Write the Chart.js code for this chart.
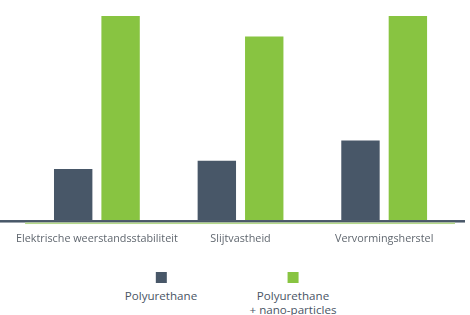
<!DOCTYPE html>
<html><head><meta charset="utf-8">
<script src="https://cdn.jsdelivr.net/npm/chart.js@4.4.1/dist/chart.umd.min.js"></script>
<style>
html,body{margin:0;padding:0;background:#fff;}
#wrap{position:relative;width:470px;height:315px;overflow:hidden;}
#c{position:absolute;left:0;top:0;}
.lg{position:absolute;top:272px;text-align:center;font-family:"Open Sans",sans-serif;font-size:11.6px;color:#4a5565;line-height:14px;transform:translateX(-50%);white-space:nowrap;}
.lg .sw{width:11px;height:11px;margin:0 auto 6px auto;}
</style></head>
<body><div id="wrap"><canvas id="c" width="470" height="265"></canvas></div>
<script>
const categories = ["Elektrische weerstandsstabiliteit", "Slijtvastheid", "Vervormingsherstel"];
const seriesNames = [["Polyurethane"], ["Polyurethane", "+ nano-particles"]];
const polyurethane = [25, 29, 39];
const polyNano = [100, 90, 100];
const colors = ["#485768", "#88c441"];
const legendX = [161, 293];

const baseline = {
  id: 'baseline',
  afterDatasetsDraw(chart) {
    const ctx = chart.ctx, y0 = chart.scales.y.getPixelForValue(0), a = chart.chartArea;
    ctx.save();
    ctx.fillStyle = colors[0];
    ctx.fillRect(0, y0, 465, 2.5);
    ctx.fillStyle = "#b5d98a";
    ctx.fillRect(a.left, y0 + 2.5, a.right - a.left - 1, 1.5);
    ctx.restore();
  }
};

new Chart(document.getElementById('c'), {
  type: 'bar',
  data: {
    labels: categories,
    datasets: [
      { label: seriesNames[0].join(' '), data: polyurethane, backgroundColor: colors[0] },
      { label: seriesNames[1].join(' '), data: polyNano, backgroundColor: colors[1] }
    ]
  },
  options: {
    responsive: false, animation: false,
    layout: { padding: { left: 24, right: 14, top: 16, bottom: 8 } },
    datasets: { bar: { categoryPercentage: 0.66, barPercentage: 0.81 } },
    plugins: { legend: { display: false }, tooltip: { enabled: false } },
    scales: {
      x: {
        grid: { display: false, drawTicks: false }, border: { display: false },
        ticks: { color: "#60676f", padding: 12, font: { family: "Open Sans", size: 10.8 }, maxRotation: 0, autoSkip: false }
      },
      y: { display: false, min: 0, max: 100 }
    }
  },
  plugins: [baseline]
});

const wrap = document.getElementById('wrap');
seriesNames.forEach((n, i) => {
  const d = document.createElement('div');
  d.className = 'lg';
  d.style.left = legendX[i] + 'px';
  const sw = document.createElement('div');
  sw.className = 'sw'; sw.style.background = colors[i];
  d.appendChild(sw);
  n.forEach(t => { const s = document.createElement('div'); s.textContent = t; d.appendChild(s); });
  wrap.appendChild(d);
});
</script></body></html>
